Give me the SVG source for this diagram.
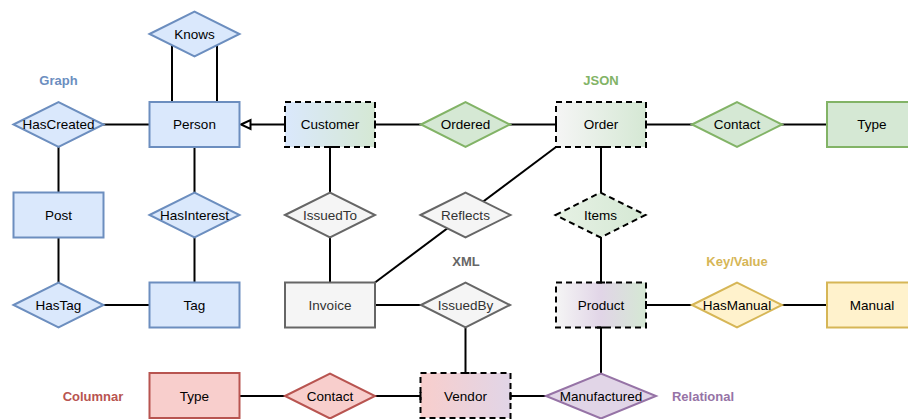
<svg xmlns="http://www.w3.org/2000/svg" width="908" height="419" viewBox="0 0 908 419">
  <defs>
    <style>
      text { font-family: "Liberation Sans", Arial, sans-serif; font-size: 13.5px; text-anchor: middle; dominant-baseline: central; fill: #000; }
      .lbl { font-weight: bold; font-size: 13px; }
      .ln { stroke: #000; stroke-width: 2; fill: none; }
      .blue { fill: #dae8fc; stroke: #6c8ebf; stroke-width: 2; }
      .green { fill: #d5e8d4; stroke: #82b366; stroke-width: 2; }
      .grey { fill: #f5f5f5; stroke: #666666; stroke-width: 2; }
      .yellow { fill: #fff2cc; stroke: #d6b656; stroke-width: 2; }
      .red { fill: #f8cecc; stroke: #b85450; stroke-width: 2; }
      .purple { fill: #e1d5e7; stroke: #9673a6; stroke-width: 2; }
      .dash { stroke: #000; stroke-width: 2; stroke-dasharray: 6 4; }
      .gt { fill: #333333; }
    </style>
    <linearGradient id="gCustomer" x1="0" y1="0" x2="1" y2="0">
      <stop offset="0" stop-color="#dae8fc"/>
      <stop offset="1" stop-color="#d5e8d4"/>
    </linearGradient>
    <linearGradient id="gOrder" x1="0" y1="0" x2="1" y2="0">
      <stop offset="0" stop-color="#f5f5f5"/>
      <stop offset="1" stop-color="#d5e8d4"/>
    </linearGradient>
    <linearGradient id="gItems" x1="0" y1="0" x2="1" y2="0">
      <stop offset="0" stop-color="#e6f1e4"/>
      <stop offset="1" stop-color="#d5e8d4"/>
    </linearGradient>
    <linearGradient id="gProduct" x1="0" y1="0" x2="1" y2="0">
      <stop offset="0" stop-color="#f5f5f5"/>
      <stop offset="0.5" stop-color="#e1d5e7"/>
      <stop offset="1" stop-color="#d5e8d4"/>
    </linearGradient>
    <linearGradient id="gVendor" x1="0" y1="0" x2="1" y2="0">
      <stop offset="0" stop-color="#f8cecc"/>
      <stop offset="1" stop-color="#e1d5e7"/>
    </linearGradient>
  </defs>

  <rect width="908" height="419" fill="#ffffff"/>

  <!-- connectors -->
  <g id="connectors">
    <line class="ln" x1="172" y1="34" x2="172" y2="102"/>
    <line class="ln" x1="217" y1="34" x2="217" y2="102"/>
    <line class="ln" x1="103" y1="124.5" x2="149.5" y2="124.5"/>
    <line class="ln" x1="58.5" y1="124.5" x2="58.5" y2="305"/>
    <line class="ln" x1="58.5" y1="305" x2="149.5" y2="305"/>
    <line class="ln" x1="194.5" y1="147" x2="194.5" y2="282.5"/>
    <!-- Customer inherits Person -->
    <line class="ln" x1="285" y1="124.5" x2="250" y2="124.5"/>
    <polygon points="241,124.5 250.5,120 250.5,129" fill="#fff" stroke="#000" stroke-width="2"/>
    <line class="ln" x1="375" y1="124.5" x2="556" y2="124.5"/>
    <line class="ln" x1="646" y1="124.5" x2="827" y2="124.5"/>
    <line class="ln" x1="330" y1="147" x2="330" y2="282.5"/>
    <line class="ln" x1="556" y1="147" x2="375" y2="282.5"/>
    <line class="ln" x1="601" y1="147" x2="601" y2="282.5"/>
    <line class="ln" x1="375" y1="305" x2="421" y2="305"/>
    <line class="ln" x1="465.5" y1="327.5" x2="465.5" y2="373"/>
    <line class="ln" x1="646" y1="305" x2="827" y2="305"/>
    <line class="ln" x1="601" y1="327.5" x2="601" y2="373"/>
    <line class="ln" x1="239.5" y1="396" x2="420.5" y2="396"/>
    <line class="ln" x1="510.5" y1="396" x2="546" y2="396"/>
  </g>

  <!-- Graph -->
  <text class="lbl" x="58.5" y="80" style="fill:#6c8ebf">Graph</text>
  <g id="knows"><polygon class="blue" points="149.5,34 194.5,11.5 239.5,34 194.5,56.5"/><text x="194.5" y="34">Knows</text></g>
  <g id="person"><rect class="blue" x="149.5" y="102" width="90" height="45"/><text x="194.5" y="124.5">Person</text></g>
  <g id="hascreated"><polygon class="blue" points="13.5,124.5 58.5,102 103.5,124.5 58.5,147"/><text x="58.5" y="124.5">HasCreated</text></g>
  <g id="post"><rect class="blue" x="13.5" y="192.5" width="90" height="45"/><text x="58.5" y="215">Post</text></g>
  <g id="hasinterest"><polygon class="blue" points="149.5,215 194.5,192.5 239.5,215 194.5,237.5"/><text x="194.5" y="215">HasInterest</text></g>
  <g id="hastag"><polygon class="blue" points="13.5,305 58.5,282.5 103.5,305 58.5,327.5"/><text x="58.5" y="305">HasTag</text></g>
  <g id="tag"><rect class="blue" x="149.5" y="282.5" width="90" height="45"/><text x="194.5" y="305">Tag</text></g>

  <!-- JSON -->
  <text class="lbl" x="601" y="80" style="fill:#82b366">JSON</text>
  <g id="customer"><rect class="dash" fill="url(#gCustomer)" x="285" y="102" width="90" height="45"/><text x="330" y="124.5">Customer</text></g>
  <g id="ordered"><polygon class="green" points="421,124.5 465.5,102 510,124.5 465.5,147"/><text x="465.5" y="124.5">Ordered</text></g>
  <g id="order"><rect class="dash" fill="url(#gOrder)" x="556" y="102" width="90" height="45"/><text x="601" y="124.5">Order</text></g>
  <g id="contact-json"><polygon class="green" points="692,124.5 737,102 782,124.5 737,147"/><text x="737" y="124.5">Contact</text></g>
  <g id="type-json"><rect class="green" x="827" y="102" width="90" height="45"/><text x="872" y="124.5">Type</text></g>
  <g id="items"><polygon class="dash" fill="url(#gItems)" points="555.5,215 600.5,192.5 645.5,215 600.5,237.5"/><text x="600.5" y="215">Items</text></g>

  <!-- XML -->
  <text class="lbl" x="466" y="261" style="fill:#666666">XML</text>
  <g id="issuedto"><polygon class="grey" points="285,215 330,192.5 375,215 330,237.5"/><text class="gt" x="330" y="215">IssuedTo</text></g>
  <g id="reflects"><polygon class="grey" points="420.5,215 465.5,192.5 510.5,215 465.5,237.5"/><text class="gt" x="465.5" y="215">Reflects</text></g>
  <g id="invoice"><rect class="grey" x="285" y="282.5" width="90" height="45"/><text class="gt" x="330" y="305">Invoice</text></g>
  <g id="issuedby"><polygon class="grey" points="421,305 465.5,282.5 510,305 465.5,327.5"/><text class="gt" x="465.5" y="305">IssuedBy</text></g>

  <!-- Key/Value -->
  <text class="lbl" x="737" y="261" style="fill:#d6b656">Key/Value</text>
  <g id="product"><rect class="dash" fill="url(#gProduct)" x="556" y="282.5" width="90" height="45"/><text x="601" y="305">Product</text></g>
  <g id="hasmanual"><polygon class="yellow" points="692,305 737,282.5 782,305 737,327.5"/><text x="737" y="305">HasManual</text></g>
  <g id="manual"><rect class="yellow" x="827" y="282.5" width="90" height="45"/><text x="872" y="305">Manual</text></g>

  <!-- Columnar / Relational -->
  <text class="lbl" x="93" y="396" style="fill:#b85450">Columnar</text>
  <g id="type-columnar"><rect class="red" x="149.5" y="373" width="90" height="45"/><text x="194.5" y="396">Type</text></g>
  <g id="contact-columnar"><polygon class="red" points="285,396 330,373.5 375,396 330,418.5"/><text x="330" y="396">Contact</text></g>
  <g id="vendor"><rect class="dash" fill="url(#gVendor)" x="420.5" y="373" width="90" height="45"/><text x="465.5" y="396">Vendor</text></g>
  <g id="manufactured"><polygon class="purple" points="546,396 601,373.5 656,396 601,418.5"/><text x="601" y="396">Manufactured</text></g>
  <text class="lbl" x="703" y="396" style="fill:#9673a6">Relational</text>

  <!-- one-cardinality ticks at entity ends -->
  <g id="ticks" stroke="#000" stroke-width="2">
    <line x1="285" y1="120.5" x2="285" y2="128.5"/>
    <line x1="375" y1="120.5" x2="375" y2="128.5"/>
    <line x1="556" y1="120.5" x2="556" y2="128.5"/>
    <line x1="646" y1="120.5" x2="646" y2="128.5"/>
    <line x1="646" y1="301" x2="646" y2="309"/>
    <line x1="420.5" y1="392" x2="420.5" y2="400"/>
    <line x1="510.5" y1="392" x2="510.5" y2="400"/>
    <line x1="597" y1="147" x2="605" y2="147"/>
    <line x1="597" y1="282.5" x2="605" y2="282.5"/>
    <line x1="597" y1="327.5" x2="605" y2="327.5"/>
    <line x1="461.5" y1="373" x2="469.5" y2="373"/>
    <line x1="326" y1="147" x2="334" y2="147"/>
  </g>
</svg>
